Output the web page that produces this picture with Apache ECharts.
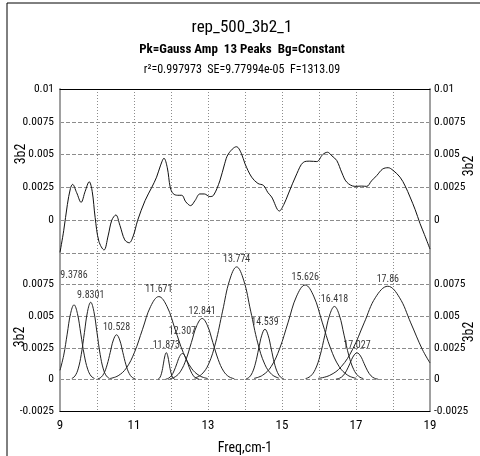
<!DOCTYPE html>
<html>
<head>
<meta charset="utf-8">
<script src="https://cdn.jsdelivr.net/npm/echarts@6/dist/echarts.min.js"></script>
<style>
html,body{margin:0;padding:0;background:#fff;}
#chart{width:480px;height:456px;}
</style>
</head>
<body>
<div id="chart"></div>
<script>
// ---- data ----
const titleText = 'rep_500_3b2_1';
const subtitleText = 'Pk=Gauss Amp  13 Peaks  Bg=Constant';
const statsText = 'r\u00B2=0.997973  SE=9.77994e-05  F=1313.09';
const xName = 'Freq,cm-1';
const yName = '3b2';

// measured spectrum (upper panel)
const topFreq = [9.0, 9.1, 9.2, 9.28, 9.34, 9.45, 9.57, 9.68, 9.79, 9.87, 9.95, 10.05, 10.19, 10.3, 10.4, 10.51, 10.62, 10.75, 10.87, 10.98, 11.1, 11.3, 11.48, 11.61, 11.72, 11.81, 11.9, 11.98, 12.06, 12.18, 12.29, 12.4, 12.53, 12.65, 12.78, 12.9, 13.05, 13.15, 13.32, 13.45, 13.55, 13.77, 13.9, 14.0, 14.18, 14.35, 14.5, 14.62, 14.72, 14.93, 15.05, 15.17, 15.4, 15.58, 15.75, 15.94, 16.1, 16.23, 16.35, 16.48, 16.62, 16.75, 16.97, 17.15, 17.29, 17.42, 17.56, 17.72, 17.87, 18.0, 18.19, 18.33, 18.46, 18.6, 18.73, 18.85, 19.0];
const topSignal = [-0.00245, -0.0008, 0.0012, 0.0024, 0.00273, 0.0021, 0.00136, 0.0022, 0.00293, 0.0022, 0.0002, -0.0016, -0.00227, -0.0012, 0.0, 0.0004, -0.0004, -0.0015, -0.00172, -0.0012, 0.0, 0.0015, 0.0025, 0.00328, 0.0042, 0.00472, 0.004, 0.0025, 0.00202, 0.0019, 0.0019, 0.0014, 0.00111, 0.0015, 0.002, 0.002, 0.0018, 0.0019, 0.003, 0.0043, 0.00505, 0.0056, 0.0051, 0.0043, 0.00328, 0.0028, 0.00265, 0.0021, 0.00177, 0.0007, 0.0012, 0.002, 0.00354, 0.00442, 0.0045, 0.00447, 0.005, 0.00518, 0.0049, 0.00455, 0.0036, 0.0029, 0.00258, 0.0026, 0.00258, 0.003, 0.0034, 0.0039, 0.004, 0.0038, 0.00328, 0.0026, 0.00177, 0.0008, -0.00025, -0.0011, -0.0022];

// fitted peaks (lower panel): labels, centres, heights
const peakLabels = ['9.3786', '9.8301', '10.528', '11.671', '11.873', '12.307', '12.841', '13.774', '14.539', '15.626', '16.418', '17.027', '17.86'];
const peakCentres = [9.3786, 9.8301, 10.528, 11.671, 11.873, 12.307, 12.841, 13.774, 14.539, 15.626, 16.418, 17.027, 17.86];
const peakHeights = [0.0059, 0.0061, 0.00353, 0.00655, 0.00212, 0.00205, 0.00482, 0.0089, 0.00397, 0.00747, 0.00577, 0.0021, 0.00737];

// sampled peak curves [freq, value]
const peak01 = [[9.0,0.00072],[9.101,0.00192],[9.194,0.00358],[9.286,0.00521],[9.379,0.0059],[9.471,0.00521],[9.564,0.00358],[9.656,0.00192],[9.749,0.0008],[9.841,0.00026],[9.934,0.00007]];
const peak02 = [[9.32,0.00007],[9.405,0.00027],[9.49,0.00083],[9.575,0.00198],[9.66,0.0037],[9.745,0.00538],[9.83,0.0061],[9.915,0.00538],[10.0,0.0037],[10.085,0.00198],[10.17,0.00083],[10.255,0.00027],[10.34,0.00007]];
const peak03 = [[10.018,0.00004],[10.103,0.00015],[10.188,0.00048],[10.273,0.00115],[10.358,0.00214],[10.443,0.00312],[10.528,0.00353],[10.613,0.00312],[10.698,0.00214],[10.783,0.00115],[10.868,0.00048],[10.953,0.00015],[11.038,0.00004]];
const peak04 = [[10.351,0.00007],[10.571,0.00029],[10.791,0.00089],[11.011,0.00213],[11.231,0.00397],[11.451,0.00578],[11.671,0.00655],[11.891,0.00578],[12.111,0.00397],[12.331,0.00213],[12.551,0.00089],[12.771,0.00029],[12.991,0.00007]];
const peak05 = [[11.648,0.00002],[11.686,0.00009],[11.723,0.00029],[11.761,0.00069],[11.798,0.00129],[11.836,0.00187],[11.873,0.00212],[11.911,0.00187],[11.948,0.00129],[11.986,0.00069],[12.023,0.00029],[12.061,0.00009],[12.098,0.00002]];
const peak06 = [[11.857,0.00002],[11.932,0.00009],[12.007,0.00028],[12.082,0.00067],[12.157,0.00124],[12.232,0.00181],[12.307,0.00205],[12.382,0.00181],[12.457,0.00124],[12.532,0.00067],[12.607,0.00028],[12.682,0.00009],[12.757,0.00002]];
const peak07 = [[11.971,0.00005],[12.116,0.00021],[12.261,0.00065],[12.406,0.00157],[12.551,0.00292],[12.696,0.00425],[12.841,0.00482],[12.986,0.00425],[13.131,0.00292],[13.276,0.00157],[13.421,0.00065],[13.566,0.00021],[13.711,0.00005]];
const peak08 = [[12.634,0.0001],[12.824,0.00039],[13.014,0.0012],[13.204,0.00289],[13.394,0.0054],[13.584,0.00785],[13.774,0.0089],[13.964,0.00785],[14.154,0.0054],[14.344,0.00289],[14.534,0.0012],[14.724,0.00039],[14.914,0.0001]];
const peak09 = [[14.029,0.00004],[14.114,0.00017],[14.199,0.00054],[14.284,0.00129],[14.369,0.00241],[14.454,0.0035],[14.539,0.00397],[14.624,0.0035],[14.709,0.00241],[14.794,0.00129],[14.879,0.00054],[14.964,0.00017],[15.049,0.00004]];
const peak10 = [[14.246,0.00008],[14.476,0.00033],[14.706,0.00101],[14.936,0.00243],[15.166,0.00453],[15.396,0.00659],[15.626,0.00747],[15.856,0.00659],[16.086,0.00453],[16.316,0.00243],[16.546,0.00101],[16.776,0.00033],[17.006,0.00008]];
const peak11 = [[15.638,0.00006],[15.768,0.00025],[15.898,0.00078],[16.028,0.00187],[16.158,0.0035],[16.288,0.00509],[16.418,0.00577],[16.548,0.00509],[16.678,0.0035],[16.808,0.00187],[16.938,0.00078],[17.068,0.00025],[17.198,0.00006]];
const peak12 = [[16.457,0.00002],[16.552,0.00009],[16.647,0.00028],[16.742,0.00068],[16.837,0.00127],[16.932,0.00185],[17.027,0.0021],[17.122,0.00185],[17.217,0.00127],[17.312,0.00068],[17.407,0.00028],[17.502,0.00009],[17.597,0.00002]];
const peak13 = [[15.98,0.00008],[16.29,0.00032],[16.6,0.001],[16.91,0.00239],[17.22,0.00447],[17.53,0.0065],[17.86,0.00737],[18.17,0.0065],[18.48,0.00447],[18.79,0.00239],[19.0,0.0013]];

const xTickLabels = ['9', '11', '13', '15', '17', '19'];

// ---- build chart ----
const peakCurves = [peak01, peak02, peak03, peak04, peak05, peak06, peak07, peak08, peak09, peak10, peak11, peak12, peak13];
const FONT = "'Roboto Condensed', 'Liberation Sans Narrow', 'DejaVu Sans Condensed', sans-serif";
const gridDash = { color: '#8c8c8c', type: [4, 2], width: 1 };
const gridDot = { color: '#8c8c8c', type: [1, 2], width: 1 };
const sideAxisLine = { show: true, onZero: false, lineStyle: { color: '#a0a0a0', width: 2 } };

function fmtY(v) { return String(Number(v.toFixed(4))); }

function yAxisFor(grid, side, hideValue) {
  return {
    type: 'value', gridIndex: grid, position: side,
    min: -0.0025, max: 0.01, interval: 0.0025,
    axisLine: sideAxisLine,
    axisTick: { show: false },
    axisLabel: {
      show: true, margin: side === 'left' ? 6 : 4, color: '#000',
      fontFamily: FONT, fontSize: 11.5,
      formatter: function (v) { return Math.abs(v - hideValue) < 1e-9 ? '' : fmtY(v); }
    },
    splitLine: { show: side === 'left', lineStyle: gridDash }
  };
}

const labelLift = { 0: 22, 5: 15 };

const series = [];
series.push({
  type: 'line', xAxisIndex: 0, yAxisIndex: 0,
  data: topFreq.map((f, i) => [f, topSignal[i]]),
  smooth: 0.35, showSymbol: false, symbol: 'none',
  lineStyle: { color: '#111', width: 1 }
});
peakCurves.forEach(function (pc) {
  series.push({
    type: 'line', xAxisIndex: 1, yAxisIndex: 2,
    data: pc, smooth: 0.4, showSymbol: false, symbol: 'none',
    lineStyle: { color: '#222', width: 1 }
  });
});
series.push({
  type: 'scatter', xAxisIndex: 1, yAxisIndex: 2,
  symbolSize: 0, silent: true,
  data: peakCentres.map(function (c, i) {
    return {
      value: [c, peakHeights[i]], name: peakLabels[i],
      label: { offset: [0, -(labelLift[i] || 0)] }
    };
  }),
  label: {
    show: true, position: 'top', distance: 2,
    formatter: function (p) { return p.name; },
    color: '#000', fontFamily: FONT, fontSize: 10
  }
});

const option = {
  animation: false,
  backgroundColor: '#fff',
  grid: [
    { left: 60, top: 89, width: 370, height: 164 },
    { left: 60, top: 253, width: 370, height: 162 }
  ],
  xAxis: [
    {
      type: 'value', gridIndex: 0, position: 'top', min: 9, max: 19, interval: 1,
      axisLine: { show: true, onZero: false, lineStyle: { color: '#000', width: 1 } },
      axisTick: { show: false }, axisLabel: { show: false },
      splitLine: { show: true, lineStyle: gridDot }
    },
    {
      type: 'value', gridIndex: 1, position: 'bottom', min: 9, max: 19, interval: 1,
      axisLine: { show: true, onZero: false, lineStyle: { color: '#000', width: 1 } },
      axisTick: { show: false },
      axisLabel: {
        margin: 8, color: '#000', fontFamily: FONT, fontSize: 13,
        formatter: function (v) { const s = String(v); return xTickLabels.indexOf(s) >= 0 ? s : ''; }
      },
      splitLine: { show: true, lineStyle: gridDot },
      name: xName, nameLocation: 'middle', nameGap: 30,
      nameTextStyle: { color: '#000', fontFamily: FONT, fontSize: 14 }
    }
  ],
  yAxis: [
    yAxisFor(0, 'left', -0.0025),
    yAxisFor(0, 'right', -0.0025),
    yAxisFor(1, 'left', 0.01),
    yAxisFor(1, 'right', 0.01)
  ],
  series: series,
  graphic: [
    { type: 'line', shape: { x1: 7, y1: 3, x2: 480, y2: 3 }, style: { stroke: '#000', lineWidth: 1 } },
    { type: 'line', shape: { x1: 7, y1: 3, x2: 7, y2: 456 }, style: { stroke: '#000', lineWidth: 1 } },
    { type: 'text', x: 242, y: 28, style: { text: titleText, font: '17px ' + FONT, fill: '#000', align: 'center', verticalAlign: 'middle' } },
    { type: 'text', x: 242, y: 50, style: { text: subtitleText, font: 'bold 13px ' + FONT, fill: '#000', align: 'center', verticalAlign: 'middle' } },
    { type: 'text', x: 242, y: 70, style: { text: statsText, font: '12px ' + FONT, fill: '#000', align: 'center', verticalAlign: 'middle' } },
    { type: 'text', x: 21, y: 154, rotation: Math.PI / 2, style: { text: yName, font: '14px ' + FONT, fill: '#000', align: 'center', verticalAlign: 'middle' } },
    { type: 'text', x: 20, y: 337, rotation: Math.PI / 2, style: { text: yName, font: '14px ' + FONT, fill: '#000', align: 'center', verticalAlign: 'middle' } },
    { type: 'text', x: 469, y: 166, rotation: Math.PI / 2, style: { text: yName, font: '14px ' + FONT, fill: '#000', align: 'center', verticalAlign: 'middle' } },
    { type: 'text', x: 469, y: 332, rotation: Math.PI / 2, style: { text: yName, font: '14px ' + FONT, fill: '#000', align: 'center', verticalAlign: 'middle' } }
  ]
};

const chart = echarts.init(document.getElementById('chart'), null, { renderer: 'canvas' });
chart.setOption(option);
</script>
</body>
</html>
